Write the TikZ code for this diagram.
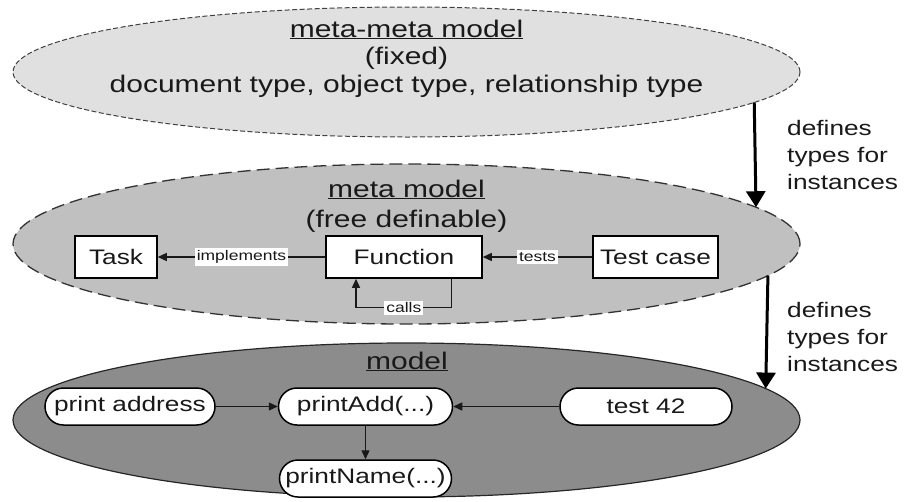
\documentclass[tikz,border=0pt]{standalone}
\usepackage{fontspec}
\setmainfont[FakeStretch=1.25]{Liberation Sans}
\usepackage{tikz}
\usetikzlibrary{arrows.meta,shapes.geometric}
\definecolor{lvltop}{HTML}{E0E0E0}
\definecolor{lvlmid}{HTML}{C0C0C0}
\definecolor{lvlbot}{HTML}{8C8C8C}
\tikzset{
  lvlell/.style={ellipse,minimum width=787pt,inner sep=0pt,outer sep=0pt},
  toplvl/.style={lvlell,minimum height=130pt,fill=lvltop,draw=black!75,line width=1pt,dash pattern=on 5pt off 2.5pt},
  midlvl/.style={lvlell,minimum height=160pt,fill=lvlmid,draw=black!80,line width=1.3pt,dash pattern=on 13pt off 6pt},
  botlvl/.style={lvlell,minimum height=154pt,fill=lvlbot,draw=black!85,line width=1.2pt},
  titletext/.style={anchor=base,inner sep=0pt,text=black!90,font=\fontsize{24}{28}\selectfont},
  sidetext/.style={anchor=north west,align=left,inner sep=0pt,text=black!90,font=\fontsize{21}{27}\selectfont},
  typebox/.style={rectangle,draw=black,line width=1.5pt,fill=white,minimum height=42pt,inner sep=2pt,text=black!90,font=\fontsize{21}{25}\selectfont},
  instnode/.style={typebox,rounded corners=18.5pt,minimum height=37pt},
  rellabel/.style={fill=white,inner sep=2pt,text=black!90,font=\fontsize{14}{16}\selectfont},
  relarrow/.style={-{Triangle[length=9pt,width=8pt]},line width=1.3pt,black!90},
  defarrow/.style={-{Triangle[length=16pt,width=19pt]},line width=3pt,black},
}
\begin{document}
\begin{tikzpicture}[x=1pt,y=-1pt]
  \useasboundingbox (0,0) rectangle (908,501);
  % the three levels
  \node[toplvl] (mm) at (406.5,72) {};
  \node[midlvl] (meta) at (406.5,244) {};
  \node[botlvl] (mdl) at (406.5,420) {};
  % meta-meta model
  \node[titletext] (mmtitle) at (406.5,37) {\underline{meta-meta model}};
  \node[titletext] (mmsub) at (406.5,64.5) {(fixed)};
  \node[titletext] (mmtypes) at (406.5,92) {document type, object type, relationship type};
  % meta model
  \node[titletext] (metatitle) at (406.5,197) {\underline{meta model}};
  \node[titletext] (metasub) at (406.5,227) {(free definable)};
  \node[typebox,minimum width=82pt] (task) at (116,257) {Task};
  \node[typebox,minimum width=156pt] (fn) at (404,257) {Function};
  \node[typebox,minimum width=125pt] (tcase) at (655.5,257) {Test case};
  \draw[relarrow] (fn) -- node[rellabel] {implements} (task);
  \draw[relarrow] (tcase) -- node[rellabel] {tests} (fn);
  \draw[relarrow] ([xshift=-31pt]fn.south east) -- ++(0,29)
    -| node[rellabel,pos=0.25] {calls} ([xshift=-48pt]fn.south);
  % model
  \node[titletext] (mdltitle) at (407,369) {\underline{model}};
  \node[instnode,minimum width=170pt] (praddr) at (130,406.5) {print address};
  \node[instnode,minimum width=174pt] (pradd) at (365.5,406.5) {printAdd(...)};
  \node[instnode,minimum width=172pt] (t42) at (646,406.5) {test 42};
  \node[instnode,minimum width=172pt] (prname) at (365.5,478.5) {printName(...)};
  \draw[relarrow] (praddr) -- (pradd);
  \draw[relarrow] (t42) -- (pradd);
  \draw[relarrow] (pradd) -- (prname);
  % level arrows
  \draw[defarrow] (mm.-5.1) -- (meta.6.2);
  \draw[defarrow] (meta.-5.9) -- (mdl.5.6);
  \node[sidetext] (def1) at (787,120) {defines\\types for\\instances};
  \node[sidetext] (def2) at (787,302) {defines\\types for\\instances};
\end{tikzpicture}
\end{document}
